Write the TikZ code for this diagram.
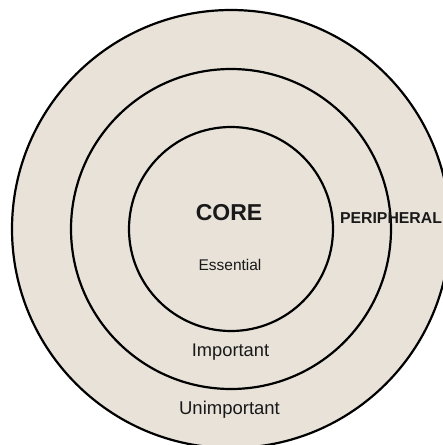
\documentclass[tikz,border=0pt]{standalone}
\usepackage{fontspec}
\setmainfont{Liberation Sans}
\definecolor{ringfill}{RGB}{232,226,217}
\definecolor{txt}{RGB}{25,25,25}
\begin{document}
\begin{tikzpicture}[x=1pt,y=-1pt,
  ring/.style={circle, draw=black, line width=2.2pt, fill=ringfill, inner sep=0pt},
  lbl/.style={inner sep=0pt, text=txt}]
\useasboundingbox (0,0) rectangle (443,445);
\clip (0,0) rectangle (443,445);
\node[ring, minimum size=438pt] (outer) at (231,229) {};
\node[ring, minimum size=320pt] (middle) at (231,229) {};
\node[ring, minimum size=204pt] (inner) at (231,229) {};
\node[lbl, font=\bfseries\fontsize{23}{27}\selectfont] (core) at (229,213) {CORE};
\node[lbl, font=\fontsize{15.5}{18}\selectfont] (ess) at (230,265) {Essential};
\node[lbl, font=\fontsize{18.3}{22}\selectfont] (imp) at (230.5,352) {Important};
\node[lbl, font=\fontsize{18.5}{22}\selectfont] (unimp) at (229.5,410) {Unimportant};
\node[lbl, font=\bfseries\fontsize{15.8}{19}\selectfont] (peri) at (391,218) {PERIPHERAL};
\end{tikzpicture}
\end{document}
